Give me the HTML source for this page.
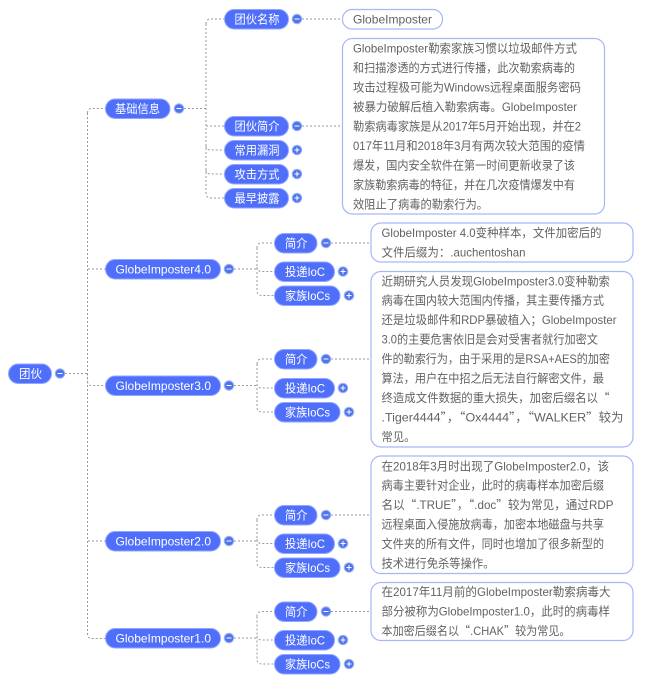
<!DOCTYPE html>
<html><head><meta charset="utf-8"><style>
html,body{margin:0;padding:0;background:#fff}
svg{display:block;filter:blur(.25px)}
text{font-family:"Liberation Sans","Noto Sans CJK SC",sans-serif;font-size:12px}
.q{font-family:"Noto Sans CJK SC",sans-serif}
.l{fill:none;stroke:#999;stroke-width:1;stroke-dasharray:2 2}
.p{fill:#4f6ffb;stroke:#90a6ff;stroke-width:1}
.b{fill:#fff;stroke:#a6b6fb;stroke-width:1.2}
.pt{fill:#fff}
.t{fill:#626262}
.c{fill:#4f74ee;stroke:#a6b8f8;stroke-width:1}
.s{stroke:#fff;stroke-width:1;fill:none}
</style></head><body>
<svg width="658" height="681" viewBox="0 0 658 681" xmlns="http://www.w3.org/2000/svg">
<g class="l">
<path class="l" d="M65 373.5H87.5M87.5 113Q87.5 108.5 92 108.5H105M87.5 113V634Q87.5 638.5 92 638.5H105M87.5 373.5V381Q87.5 385.5 92 385.5H105"/>
<path class="l" d="M88 269H105M88 541H105"/>
<path class="l" d="M184 108.5H206M206 24Q206 19 211 19H224M206 24V193Q206 198 211 198H224M206 126H224M206 146Q206 150 211 150H224M206 170Q206 174 211 174H224M302 19H342M302 126H342"/>
<path class="l" d="M234 269H257M257 248Q257 243 262 243H274M257 248V290.500Q257 295.500 262 295.500H274M257 267Q257 271.500 262 271.500H274M331 243H371"/>
<path class="l" d="M234 385.500H257M257 364Q257 359 262 359H274M257 364V407Q257 412 262 412H274M257 384Q257 388 262 388H274M331 359H371"/>
<path class="l" d="M234 541H257M257 520Q257 515 262 515H274M257 520V562.500Q257 567.500 262 567.500H274M257 539Q257 543.500 262 543.500H274M331 515H371"/>
<path class="l" d="M234 638H257M257 616.500Q257 611.500 262 611.500H274M257 616.500V659Q257 664 262 664H274M257 636Q257 640 262 640H274M331 611.500H371"/>
</g>

<rect class="p" x="8.500" y="364" width="43" height="19.500" rx="9.700"/><text class="pt" x="19" y="378" textLength="23" lengthAdjust="spacingAndGlyphs">团伙</text>
<rect class="p" x="105.500" y="99" width="64.500" height="19.500" rx="9.700"/><text class="pt" x="115" y="113" textLength="45" lengthAdjust="spacingAndGlyphs">基础信息</text>
<rect class="p" x="224.500" y="9.500" width="64" height="19.500" rx="9.700"/><text class="pt" x="234.500" y="23.500" textLength="45" lengthAdjust="spacingAndGlyphs">团伙名称</text>
<rect class="p" x="224.500" y="116.500" width="64" height="19.500" rx="9.700"/><text class="pt" x="234.500" y="130.500" textLength="45" lengthAdjust="spacingAndGlyphs">团伙简介</text>
<rect class="p" x="224.500" y="140.500" width="64" height="19.500" rx="9.700"/><text class="pt" x="234.500" y="154.500" textLength="45" lengthAdjust="spacingAndGlyphs">常用漏洞</text>
<rect class="p" x="224.500" y="164.500" width="64" height="19.500" rx="9.700"/><text class="pt" x="234.500" y="178.500" textLength="45" lengthAdjust="spacingAndGlyphs">攻击方式</text>
<rect class="p" x="224.500" y="188.500" width="64" height="19.500" rx="9.700"/><text class="pt" x="234.500" y="202.500" textLength="45" lengthAdjust="spacingAndGlyphs">最早披露</text>

<rect class="p" x="105.500" y="259.500" width="115" height="19.500" rx="9.700"/><text class="pt" x="115.500" y="273.500" textLength="95.500" lengthAdjust="spacingAndGlyphs">GlobeImposter4.0</text>
<rect class="p" x="105.500" y="376" width="115" height="19.500" rx="9.700"/><text class="pt" x="115.500" y="390" textLength="95.500" lengthAdjust="spacingAndGlyphs">GlobeImposter3.0</text>
<rect class="p" x="105.500" y="531.500" width="115" height="19.500" rx="9.700"/><text class="pt" x="115.500" y="545.500" textLength="95.500" lengthAdjust="spacingAndGlyphs">GlobeImposter2.0</text>
<rect class="p" x="105.500" y="628.500" width="115" height="19.500" rx="9.700"/><text class="pt" x="115.500" y="642.500" textLength="95.500" lengthAdjust="spacingAndGlyphs">GlobeImposter1.0</text>

<rect class="p" x="274.500" y="233.500" width="42.500" height="19.500" rx="9.700"/><text class="pt" x="285" y="247.500" textLength="22.500" lengthAdjust="spacingAndGlyphs">简介</text>
<rect class="p" x="274.500" y="262" width="60" height="19.500" rx="9.700"/><text class="pt" x="285" y="276" textLength="40" lengthAdjust="spacingAndGlyphs">投递IoC</text>
<rect class="p" x="274.500" y="286" width="65.500" height="19.500" rx="9.700"/><text class="pt" x="285" y="300" textLength="45" lengthAdjust="spacingAndGlyphs">家族IoCs</text>
<rect class="p" x="274.500" y="349.500" width="42.500" height="19.500" rx="9.700"/><text class="pt" x="285" y="363.500" textLength="22.500" lengthAdjust="spacingAndGlyphs">简介</text>
<rect class="p" x="274.500" y="378.500" width="60" height="19.500" rx="9.700"/><text class="pt" x="285" y="392.500" textLength="40" lengthAdjust="spacingAndGlyphs">投递IoC</text>
<rect class="p" x="274.500" y="402.500" width="65.500" height="19.500" rx="9.700"/><text class="pt" x="285" y="416.500" textLength="45" lengthAdjust="spacingAndGlyphs">家族IoCs</text>
<rect class="p" x="274.500" y="505.500" width="42.500" height="19.500" rx="9.700"/><text class="pt" x="285" y="519.500" textLength="22.500" lengthAdjust="spacingAndGlyphs">简介</text>
<rect class="p" x="274.500" y="534" width="60" height="19.500" rx="9.700"/><text class="pt" x="285" y="548" textLength="40" lengthAdjust="spacingAndGlyphs">投递IoC</text>
<rect class="p" x="274.500" y="558" width="65.500" height="19.500" rx="9.700"/><text class="pt" x="285" y="572" textLength="45" lengthAdjust="spacingAndGlyphs">家族IoCs</text>
<rect class="p" x="274.500" y="602" width="42.500" height="19.500" rx="9.700"/><text class="pt" x="285" y="616" textLength="22.500" lengthAdjust="spacingAndGlyphs">简介</text>
<rect class="p" x="274.500" y="630.500" width="60" height="19.500" rx="9.700"/><text class="pt" x="285" y="644.500" textLength="40" lengthAdjust="spacingAndGlyphs">投递IoC</text>
<rect class="p" x="274.500" y="654.500" width="65.500" height="19.500" rx="9.700"/><text class="pt" x="285" y="668.500" textLength="45" lengthAdjust="spacingAndGlyphs">家族IoCs</text>

<g>
<circle class="c" cx="60" cy="373.500" r="4.800"/><path class="s" d="M57.500 373.500H62.500"/>
<circle class="c" cx="179" cy="108.500" r="4.800"/><path class="s" d="M176.500 108.500H181.500"/>
<circle class="c" cx="297" cy="19" r="4.800"/><path class="s" d="M294.500 19H299.500"/>
<circle class="c" cx="297" cy="126" r="4.800"/><path class="s" d="M294.500 126H299.500"/>
<circle class="c" cx="297" cy="150" r="4.800"/><path class="s" d="M294.500 150H299.500M297 147.500V152.500"/>
<circle class="c" cx="297" cy="174" r="4.800"/><path class="s" d="M294.500 174H299.500M297 171.500V176.500"/>
<circle class="c" cx="297" cy="198" r="4.800"/><path class="s" d="M294.500 198H299.500M297 195.500V200.500"/>
<circle class="c" cx="229" cy="269" r="4.800"/><path class="s" d="M226.500 269H231.500"/>
<circle class="c" cx="229" cy="385.500" r="4.800"/><path class="s" d="M226.500 385.500H231.500"/>
<circle class="c" cx="229" cy="541" r="4.800"/><path class="s" d="M226.500 541H231.500"/>
<circle class="c" cx="229" cy="638" r="4.800"/><path class="s" d="M226.500 638H231.500"/>
<circle class="c" cx="326" cy="243" r="4.800"/><path class="s" d="M323.500 243H328.500"/>
<circle class="c" cx="326" cy="359" r="4.800"/><path class="s" d="M323.500 359H328.500"/>
<circle class="c" cx="326" cy="515" r="4.800"/><path class="s" d="M323.500 515H328.500"/>
<circle class="c" cx="326" cy="611.500" r="4.800"/><path class="s" d="M323.500 611.500H328.500"/>
<circle class="c" cx="343" cy="271.500" r="4.800"/><path class="s" d="M340.500 271.500H345.500M343 269V274"/>
<circle class="c" cx="349" cy="295.500" r="4.800"/><path class="s" d="M346.500 295.500H351.500M349 293V298"/>
<circle class="c" cx="343" cy="388" r="4.800"/><path class="s" d="M340.500 388H345.500M343 385.500V390.500"/>
<circle class="c" cx="349" cy="412" r="4.800"/><path class="s" d="M346.500 412H351.500M349 409.500V414.500"/>
<circle class="c" cx="343" cy="543.500" r="4.800"/><path class="s" d="M340.500 543.500H345.500M343 541V546"/>
<circle class="c" cx="349" cy="567.500" r="4.800"/><path class="s" d="M346.500 567.500H351.500M349 565V570"/>
<circle class="c" cx="343" cy="640" r="4.800"/><path class="s" d="M340.500 640H345.500M343 637.500V642.500"/>
<circle class="c" cx="349" cy="664" r="4.800"/><path class="s" d="M346.500 664H351.500M349 661.500V666.500"/>
</g>

<rect class="b" x="342.500" y="9.500" width="100" height="19.500" rx="9.500"/>
<text class="t" x="353" y="23.500" textLength="79" lengthAdjust="spacingAndGlyphs">GlobeImposter</text>

<rect class="b" x="342.500" y="38.500" width="262" height="175.500" rx="10"/>
<text class="t" x="353" y="52.500" textLength="224" lengthAdjust="spacingAndGlyphs">GlobeImposter勒索家族习惯以垃圾邮件方式</text>
<text class="t" x="353" y="72" textLength="222" lengthAdjust="spacingAndGlyphs">和扫描渗透的方式进行传播，此次勒索病毒的</text>
<text class="t" x="353" y="91.500" textLength="228" lengthAdjust="spacingAndGlyphs">攻击过程极可能为Windows远程桌面服务密码</text>
<text class="t" x="353" y="111" textLength="224" lengthAdjust="spacingAndGlyphs">被暴力破解后植入勒索病毒。GlobeImposter</text>
<text class="t" x="353" y="130.500" textLength="228" lengthAdjust="spacingAndGlyphs">勒索病毒家族是从2017年5月开始出现，并在2</text>
<text class="t" x="353" y="150" textLength="232" lengthAdjust="spacingAndGlyphs">017年11月和2018年3月有两次较大范围的疫情</text>
<text class="t" x="353" y="169.500" textLength="222" lengthAdjust="spacingAndGlyphs">爆发，国内安全软件在第一时间更新收录了该</text>
<text class="t" x="353" y="189" textLength="222" lengthAdjust="spacingAndGlyphs">家族勒索病毒的特征，并在几次疫情爆发中有</text>
<text class="t" x="353" y="208.500" textLength="135" lengthAdjust="spacingAndGlyphs">效阻止了病毒的勒索行为。</text>

<rect class="b" x="371" y="223" width="262" height="39" rx="10"/>
<text class="t" x="381.500" y="237" textLength="220" lengthAdjust="spacingAndGlyphs">GlobeImposter 4.0变种样本，文件加密后的</text>
<text class="t" x="381.500" y="256.500" textLength="144" lengthAdjust="spacingAndGlyphs">文件后缀为：.auchentoshan</text>

<rect class="b" x="371" y="271.500" width="262" height="175.500" rx="10"/>
<text class="t" x="381.500" y="285.500" textLength="228.500" lengthAdjust="spacingAndGlyphs">近期研究人员发现GlobeImposter3.0变种勒索</text>
<text class="t" x="381.500" y="304.500" textLength="222.500" lengthAdjust="spacingAndGlyphs">病毒在国内较大范围内传播，其主要传播方式</text>
<text class="t" x="381.500" y="324" textLength="235" lengthAdjust="spacingAndGlyphs">还是垃圾邮件和RDP暴破植入；GlobeImposter</text>
<text class="t" x="381.500" y="343.500" textLength="216.500" lengthAdjust="spacingAndGlyphs">3.0的主要危害依旧是会对受害者就行加密文</text>
<text class="t" x="381.500" y="363" textLength="228.500" lengthAdjust="spacingAndGlyphs">件的勒索行为，由于采用的是RSA+AES的加密</text>
<text class="t" x="381.500" y="382.500" textLength="222.500" lengthAdjust="spacingAndGlyphs">算法，用户在中招之后无法自行解密文件，最</text>
<text class="t" x="381.500" y="402" textLength="228" lengthAdjust="spacingAndGlyphs">终造成文件数据的重大损失，加密后缀名以<tspan class="q">“</tspan></text>
<text class="t" x="381.500" y="421.500" textLength="242" lengthAdjust="spacingAndGlyphs">.Tiger4444<tspan class="q">”，“</tspan>Ox4444<tspan class="q">”，“</tspan>WALKER<tspan class="q">”</tspan>较为</text>
<text class="t" x="381.500" y="441" textLength="34" lengthAdjust="spacingAndGlyphs">常见。</text>

<rect class="b" x="371" y="456" width="262" height="117.500" rx="10"/>
<text class="t" x="381.500" y="470.500" textLength="227.500" lengthAdjust="spacingAndGlyphs">在2018年3月时出现了GlobeImposter2.0，该</text>
<text class="t" x="381.500" y="489.500" textLength="222.500" lengthAdjust="spacingAndGlyphs">病毒主要针对企业，此时的病毒样本加密后缀</text>
<text class="t" x="381.500" y="509" textLength="232" lengthAdjust="spacingAndGlyphs">名以<tspan class="q">“</tspan>.TRUE<tspan class="q">”，“</tspan>.doc<tspan class="q">”</tspan>较为常见，通过RDP</text>
<text class="t" x="381.500" y="528.500" textLength="222.500" lengthAdjust="spacingAndGlyphs">远程桌面入侵施放病毒，加密本地磁盘与共享</text>
<text class="t" x="381.500" y="548" textLength="222.500" lengthAdjust="spacingAndGlyphs">文件夹的所有文件，同时也增加了很多新型的</text>
<text class="t" x="381.500" y="567.500" textLength="113" lengthAdjust="spacingAndGlyphs">技术进行免杀等操作。</text>

<rect class="b" x="371" y="582.500" width="262" height="58" rx="10"/>
<text class="t" x="381.500" y="596" textLength="229" lengthAdjust="spacingAndGlyphs">在2017年11月前的GlobeImposter勒索病毒大</text>
<text class="t" x="381.500" y="615.500" textLength="228.500" lengthAdjust="spacingAndGlyphs">部分被称为GlobeImposter1.0，此时的病毒样</text>
<text class="t" x="381.500" y="635" textLength="189" lengthAdjust="spacingAndGlyphs">本加密后缀名以<tspan class="q">“</tspan>.CHAK<tspan class="q">”</tspan>较为常见。</text>
</svg>
</body></html>
